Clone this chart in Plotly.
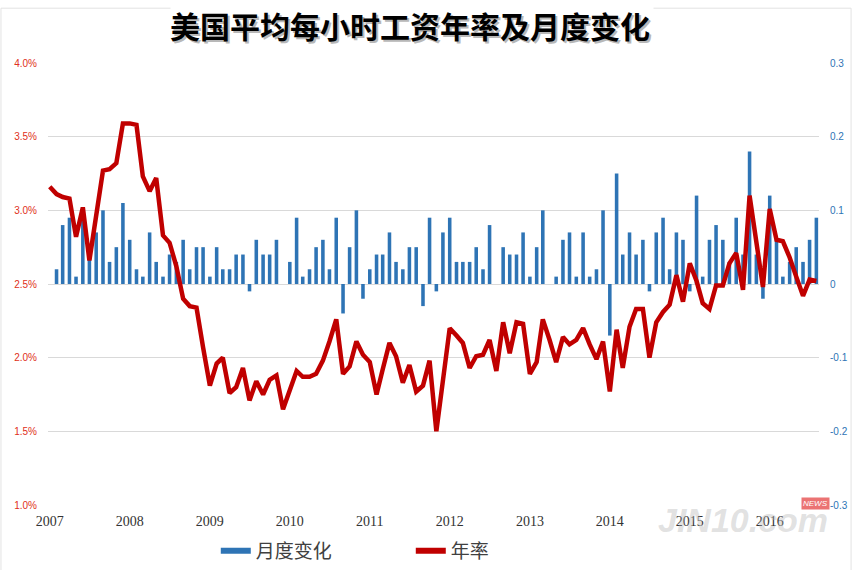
import plotly.graph_objects as go

# ---- data ----
years = [str(y) for y in range(2007, 2017)]
months = [f"{y}-{m:02d}" for y in range(2007, 2017) for m in range(1, 13)][:116]

wage_yoy = [
    3.16, 3.11, 3.09, 3.08, 2.82, 3.02, 2.66, 2.97, 3.27, 3.28, 3.32, 3.59,
    3.59, 3.58, 3.23, 3.13, 3.22, 2.83, 2.78, 2.62, 2.40, 2.35, 2.34, 2.07,
    1.81, 1.96, 2.00, 1.76, 1.80, 1.93, 1.71, 1.84, 1.75, 1.85, 1.88, 1.65,
    1.77, 1.91, 1.87, 1.87, 1.89, 1.98, 2.11, 2.26, 1.89, 1.94, 2.11, 2.02,
    1.97, 1.75, 1.92, 2.10, 2.01, 1.83, 1.95, 1.77, 1.81, 1.98, 1.50, 1.85,
    2.20, 2.15, 2.10, 1.93, 2.01, 2.02, 2.12, 1.91, 2.24, 2.03, 2.24, 2.23,
    1.89, 1.97, 2.26, 2.12, 1.97, 2.14, 2.09, 2.12, 2.20, 2.09, 1.99, 2.11,
    1.77, 2.19, 1.93, 2.21, 2.33, 2.33, 2.00, 2.24, 2.31, 2.36, 2.56, 2.38,
    2.64, 2.52, 2.37, 2.33, 2.49, 2.49, 2.64, 2.71, 2.46, 3.10, 2.80, 2.48,
    3.01, 2.80, 2.79, 2.68, 2.55, 2.42, 2.53, 2.52,
]

monthly_change = [
    None,
    0.02, 0.08, 0.09, 0.01, 0.10, 0.04, 0.07, 0.10, 0.03, 0.05, 0.11, 0.06,
    0.02, 0.01, 0.07, 0.03, 0.01, 0.04, 0.03, 0.06, 0.02, 0.05, 0.05, 0.01,
    0.05, 0.02, 0.02, 0.04, 0.04, -0.01, 0.06, 0.04, 0.04, 0.06, 0.00, 0.03,
    0.09, 0.01, 0.02, 0.05, 0.06, 0.02, 0.09, -0.04, 0.05, 0.10, -0.02, 0.02,
    0.04, 0.04, 0.07, 0.03, 0.02, 0.05, 0.05, -0.03, 0.09, -0.01, 0.07, 0.09,
    0.03, 0.03, 0.03, 0.05, 0.02, 0.08, 0.00, 0.05, 0.04, 0.04, 0.07, 0.01,
    0.05, 0.10, 0.00, 0.01, 0.06, 0.07, 0.01, 0.07, 0.01, 0.02, 0.10, -0.07,
    0.15, 0.04, 0.07, 0.04, 0.06, -0.01, 0.07, 0.09, 0.02, 0.07, 0.06, -0.01,
    0.12, 0.01, 0.06, 0.08, 0.06, 0.03, 0.09, 0.04, 0.18, 0.04, -0.02, 0.12,
    0.06, 0.01, 0.03, 0.05, 0.03, 0.06, 0.09,
]

left_ticks = [1.0, 1.5, 2.0, 2.5, 3.0, 3.5, 4.0]
left_ticktext = ["1.0%", "1.5%", "2.0%", "2.5%", "3.0%", "3.5%", "4.0%"]
right_ticks = [-0.3, -0.2, -0.1, 0.0, 0.1, 0.2, 0.3]
right_ticktext = ["-0.3", "-0.2", "-0.1", "0", "0.1", "0.2", "0.3"]

title_text = "美国平均每小时工资年率及月度变化"
bar_name = "月度变化"
line_name = "年率"

BLUE = "#2E74B5"
RED = "#C00000"
GRID = "#D9D9D9"
CJK = "Noto Sans CJK SC"

fig = go.Figure()
fig.add_trace(go.Bar(x=months, y=monthly_change, name=bar_name,
                     marker=dict(color=BLUE, line=dict(width=0)),
                     yaxis="y", showlegend=False))
fig.add_trace(go.Scatter(x=months, y=wage_yoy, name=line_name, mode="lines",
                         line=dict(color=RED, width=4.5), yaxis="y2",
                         showlegend=False))
# legend entries (line-style keys as in the original)
fig.add_trace(go.Scatter(x=[None], y=[None], mode="lines", name=bar_name,
                         line=dict(color=BLUE, width=6), yaxis="y"))
fig.add_trace(go.Scatter(x=[None], y=[None], mode="lines", name=line_name,
                         line=dict(color=RED, width=6), yaxis="y2"))

fig.update_layout(
    width=858, height=570,
    margin=dict(l=48, r=39, t=63, b=65, autoexpand=False),
    paper_bgcolor="white", plot_bgcolor="white",
    bargap=0.42,
    showlegend=True,
    legend=dict(orientation="h", xref="container", yref="container",
                x=0.2515, xanchor="left", y=0.0333, yanchor="middle",
                font=dict(family=CJK, size=19, color="#404040"),
                itemwidth=30, entrywidth=150, bgcolor="rgba(0,0,0,0)"),
    xaxis=dict(type="date", range=["2006-12-24", "2016-08-13"],
               tick0="2007-01-01", dtick="M12", tickformat="%Y",
               showgrid=False, zeroline=False, showline=False, ticks="",
               tickfont=dict(family="Liberation Serif", size=14, color="#333333"),
               ticklabelstandoff=6),
    yaxis=dict(range=[-0.3, 0.3], side="right", tickvals=right_ticks,
               ticktext=right_ticktext, showgrid=True, gridcolor=GRID,
               gridwidth=1, zeroline=False, ticks="", showline=False,
               tickfont=dict(family="Liberation Sans", size=10, color=BLUE),
               ticklabelstandoff=10),
    yaxis2=dict(range=[1.0, 4.0], overlaying="y", side="left",
                tickvals=left_ticks, ticktext=left_ticktext,
                showgrid=False, zeroline=False, ticks="", showline=False,
                tickfont=dict(family="Liberation Sans", size=10, color="#E03020"),
                ticklabelstandoff=10),
    shapes=[dict(type="rect", xref="paper", yref="paper",
                 x0=-0.061, x1=1.0416, y0=-0.15, y1=1.124,
                 line=dict(color="#E3E3E3", width=1), layer="below")],
    annotations=[
        dict(text=title_text, xref="paper", yref="paper", x=0.4695, y=1.086,
             xanchor="center", yanchor="middle", showarrow=False,
             xshift=2, yshift=-2, bgcolor="white",
             font=dict(family=CJK, size=30, color="#B8B8B8", weight="bold")),
        dict(text=title_text, xref="paper", yref="paper", x=0.4695, y=1.086,
             xanchor="center", yanchor="middle", showarrow=False,
             font=dict(family=CJK, size=30, color="#000000", weight="bold")),
        dict(text="JIN10.com", xref="paper", yref="paper", x=1.014, y=-0.034,
             xanchor="right", yanchor="middle", showarrow=False,
             font=dict(family="Liberation Sans", size=34, color="rgba(180,180,180,0.4)",
                       style="italic", weight="bold")),
        dict(text="NEWS", xref="paper", yref="paper", x=1.014, y=0.0045,
             xanchor="right", yanchor="middle", showarrow=False,
             bgcolor="rgba(230,80,80,0.8)", borderpad=1,
             font=dict(family="Liberation Sans", size=8, color="white", style="italic")),
    ],
)

fig.write_html("out.html")
